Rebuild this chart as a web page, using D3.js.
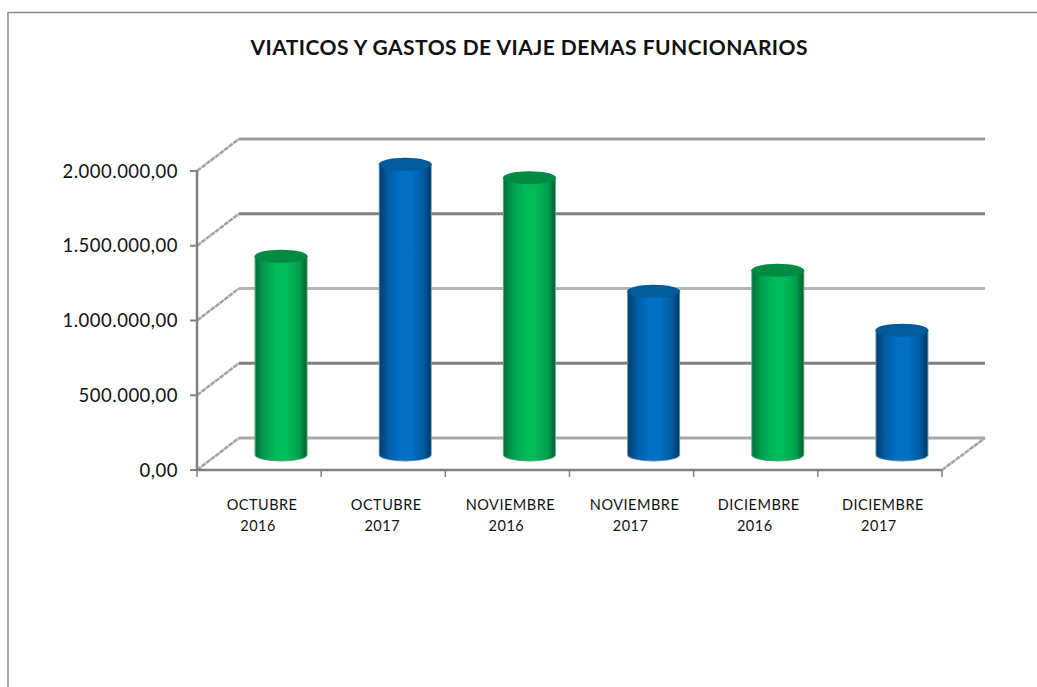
<!DOCTYPE html>
<html><head><meta charset="utf-8">
<script src="https://cdnjs.cloudflare.com/ajax/libs/d3/7.8.5/d3.min.js"></script>
<style>html,body{margin:0;background:#fff}svg{display:block}text{font-family:Lato,"Open Sans",sans-serif;fill:#111}</style>
</head><body><svg id="c" width="1037" height="687"></svg>
<script>
const title = "VIATICOS Y GASTOS DE VIAJE DEMAS FUNCIONARIOS";
const months = ["OCTUBRE","OCTUBRE","NOVIEMBRE","NOVIEMBRE","DICIEMBRE","DICIEMBRE"];
const years = ["2016","2017","2016","2017","2016","2017"];
const values = [1330000,1945000,1855000,1095000,1235000,835000];
const seriesKey = ["g","b","g","b","g","b"];
const tickValues = [0,500000,1000000,1500000,2000000];
const tickLabels = ["0,00","500.000,00","1.000.000,00","1.500.000,00","2.000.000,00"];
const gridColors = ["#a9a9a9","#808080","#b4b4b4","#808080","#9c9c9c"];

const svg = d3.select("#c");
const W = 1037, H = 687;
const y = d3.scaleLinear().domain([0,2000000]).range([470,171]);
const x = d3.scaleBand().domain(d3.range(6)).range([197,942]);
const dx = 42, dy = -32;
const barW = 51, ry = 6.5;
const barOffset = 22;
const baseShift = 15;

const defs = svg.append("defs");
const pal = {
  g:{stops:["#00733a","#00a04f","#00bb58","#00bb58","#009e4d","#00622f"],top:"#008a42",halo:"#5aa880"},
  b:{stops:["#003f73","#005fa6","#0070c4","#0070c4","#005c9f","#00396a"],top:"#005a9c",halo:"#6a93b5"}
};
Object.keys(pal).forEach(k=>{
  const g = defs.append("linearGradient").attr("id","grad-"+k);
  const offs=[0,.18,.42,.62,.86,1];
  pal[k].stops.forEach((c,i)=>g.append("stop").attr("offset",offs[i]).attr("stop-color",c));
});

svg.append("path").attr("d",`M${W},12.5H8V${H}`).attr("fill","none").attr("stroke","#8c8c8c").attr("stroke-width",1.5);

svg.append("text").attr("x",529).attr("y",55).attr("text-anchor","middle")
  .attr("font-size",21).attr("font-weight",700).attr("textLength",557).attr("lengthAdjust","spacing").text(title);

const axisX = x.range()[0], endX = x.range()[1];
tickValues.forEach((v,i)=>{
  const yy = y(v);
  svg.append("line").attr("x1",axisX+dx).attr("x2",985).attr("y1",yy+dy).attr("y2",yy+dy)
    .attr("stroke",gridColors[i]).attr("stroke-width",3);
  svg.append("line").attr("x1",axisX).attr("x2",axisX+dx).attr("y1",yy).attr("y2",yy+dy)
    .attr("stroke","#a3a3a3").attr("stroke-width",2.5).attr("stroke-dasharray","5 0.7");
  svg.append("line").attr("x1",axisX-7).attr("x2",axisX).attr("y1",yy).attr("y2",yy)
    .attr("stroke","#808080").attr("stroke-width",2);
  svg.append("text").attr("x",178).attr("y",yy+6.5).attr("text-anchor","end")
    .attr("font-size",18.5).attr("letter-spacing",0.5).text(tickLabels[i]);
});
svg.append("line").attr("x1",endX).attr("x2",985).attr("y1",y(0)).attr("y2",y(0)+dy)
  .attr("stroke","#a3a3a3").attr("stroke-width",2.5).attr("stroke-dasharray","5 0.7");
svg.append("line").attr("x1",axisX).attr("x2",axisX).attr("y1",y(2000000)).attr("y2",y(0))
  .attr("stroke","#808080").attr("stroke-width",2.5);
svg.append("line").attr("x1",axisX-1).attr("x2",endX).attr("y1",y(0)).attr("y2",y(0))
  .attr("stroke","#808080").attr("stroke-width",2.5);
[...x.domain().map(d=>x(d)),endX].forEach(t=>{
  svg.append("line").attr("x1",t).attr("x2",t).attr("y1",y(0)).attr("y2",y(0)+7)
    .attr("stroke","#808080").attr("stroke-width",1.5);
});

const base = y(0) - baseShift;
const h = v => y(0)-y(v);
const bars = svg.selectAll("g.bar").data(values).join("g").attr("class","bar")
  .attr("transform",(d,i)=>`translate(${x(i)+x.bandwidth()/2+barOffset},0)`);
bars.append("path")
  .attr("d",d=>{const t=base-h(d);return `M${-barW/2-1},${t}V${base}A${barW/2+1},${ry} 0 0 0 ${barW/2+1},${base}V${t}Z`;})
  .attr("fill",(d,i)=>pal[seriesKey[i]].halo);
bars.append("path")
  .attr("d",d=>{const t=base-h(d);return `M${-barW/2},${t}V${base}A${barW/2},${ry-1} 0 0 0 ${barW/2},${base}V${t}Z`;})
  .attr("fill",(d,i)=>`url(#grad-${seriesKey[i]})`);
bars.append("ellipse").attr("cx",0).attr("cy",d=>base-h(d)).attr("rx",barW/2+1).attr("ry",ry)
  .attr("fill",(d,i)=>pal[seriesKey[i]].top);

months.forEach((m,i)=>{
  const cx = x(i)+x.bandwidth()/2+3;
  svg.append("text").attr("x",cx).attr("y",510).attr("text-anchor","middle").attr("font-size",14.5).attr("letter-spacing",0.5).text(m);
  svg.append("text").attr("x",cx-4).attr("y",531).attr("text-anchor","middle").attr("font-size",14.5).attr("letter-spacing",0.5).text(years[i]);
});
</script></body></html>
